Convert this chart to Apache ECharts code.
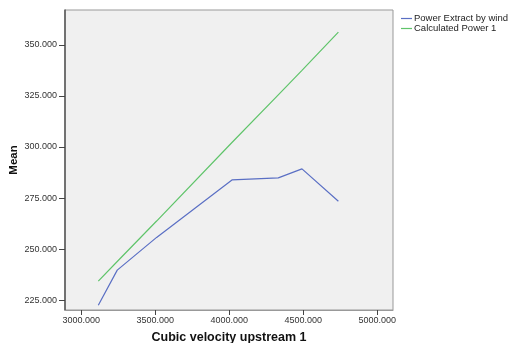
<!DOCTYPE html>
<html><head><meta charset="utf-8">
<script src="https://cdn.jsdelivr.net/npm/echarts@6/dist/echarts.min.js"></script>
<style>html,body{margin:0;padding:0;background:#fff}#c{width:514px;height:343px}</style>
</head><body><div id="c"></div>
<script>
const xValues = [3115, 3243, 3509, 4018, 4331, 4491, 4737];
const powerExtract = [222.6, 239.8, 255.8, 283.9, 284.9, 289.3, 273.5];
const calculatedPower = [234.4, 244.0, 263.8, 302.2, 325.5, 337.5, 356.2];
const xTicks = [3000, 3500, 4000, 4500, 5000];
const yTicks = [225, 250, 275, 300, 325, 350];
const seriesNames = ['Power Extract by wind', 'Calculated Power 1'];

const chart = echarts.init(document.getElementById('c'));
const lab = {color:'#333', fontFamily:'Liberation Sans, Arial', fontSize:9};
chart.setOption({
  animation:false,
  grid:{left:65, top:10, right:121, bottom:33, show:true, backgroundColor:'#f0f0f0', borderColor:'#999', borderWidth:1,
    containLabel:false, outerBoundsMode:'none'},
  legend:{orient:'vertical', left:396, top:8.5, icon:'rect', itemWidth:11, itemHeight:1.2, itemGap:0,
    textStyle:{color:'#222', fontFamily:'Liberation Sans, Arial', fontSize:9.5, lineHeight:9, padding:[0,0,0,-3]},
    data:seriesNames},
  xAxis:{type:'value', min:2890, max:5106, name:'Cubic velocity upstream 1', nameLocation:'middle', nameGap:21, nameMoveOverlap:false,
    nameTextStyle:{fontFamily:'Liberation Sans, Arial', fontWeight:'bold', fontSize:12.5, color:'#111'},
    axisLine:{show:true, lineStyle:{color:'#999', width:1}},
    axisTick:{show:true, length:5, customValues:xTicks, lineStyle:{color:'#444'}},
    axisLabel:Object.assign({customValues:xTicks, margin:6, formatter:v=>Number(v).toFixed(3)}, lab),
    splitLine:{show:false}},
  yAxis:{type:'value', min:220.3, max:367, name:'Mean', nameLocation:'middle', nameGap:45, nameMoveOverlap:false,
    nameTextStyle:{fontFamily:'Liberation Sans, Arial', fontWeight:'bold', fontSize:11.5, color:'#111'},
    axisLine:{show:true, lineStyle:{color:'#555', width:1.5}},
    axisTick:{show:true, length:6, customValues:yTicks, lineStyle:{color:'#444'}},
    axisLabel:Object.assign({customValues:yTicks, margin:8, formatter:v=>Number(v).toFixed(3)}, lab),
    splitLine:{show:false}},
  series:[
    {name:seriesNames[0], type:'line', data:xValues.map((x,i)=>[x,powerExtract[i]]), showSymbol:false, symbol:'none',
      lineStyle:{color:'#5a6fc4', width:1.2}, itemStyle:{color:'#5a6fc4'}},
    {name:seriesNames[1], type:'line', data:xValues.map((x,i)=>[x,calculatedPower[i]]), showSymbol:false, symbol:'none',
      lineStyle:{color:'#5fc46a', width:1.2}, itemStyle:{color:'#5fc46a'}}
  ]
});
</script></body></html>
